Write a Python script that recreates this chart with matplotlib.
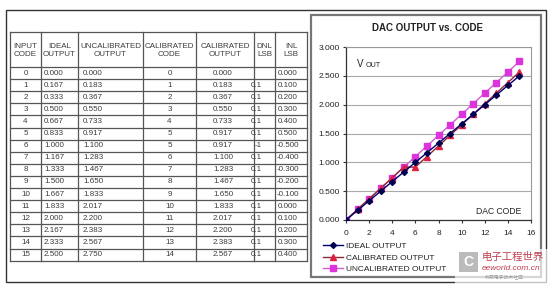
import matplotlib.pyplot as plt
from matplotlib.patches import Rectangle

plt.rcParams['font.family'] = ['Liberation Sans', 'Noto Sans CJK SC', 'DejaVu Sans']

# table / chart data
codes = list(range(16))
ideal = [0.000, 0.167, 0.333, 0.500, 0.667, 0.833, 1.000, 1.167,
         1.333, 1.500, 1.667, 1.833, 2.000, 2.167, 2.333, 2.500]
uncal = [0.000, 0.183, 0.367, 0.550, 0.733, 0.917, 1.100, 1.283,
         1.467, 1.650, 1.833, 2.017, 2.200, 2.383, 2.567, 2.750]
cal_code = [0, 1, 2, 3, 4, 5, 5, 6, 7, 8, 9, 10, 11, 12, 13, 14]
cal_out = [0.000, 0.183, 0.367, 0.550, 0.733, 0.917, 0.917, 1.100,
           1.283, 1.467, 1.650, 1.833, 2.017, 2.200, 2.383, 2.567]
dnl = ['', '0.1', '0.1', '0.1', '0.1', '0.1', '-1', '0.1',
       '0.1', '0.1', '0.1', '0.1', '0.1', '0.1', '0.1', '0.1']
inl = [0.000, 0.100, 0.200, 0.300, 0.400, 0.500, -0.500, -0.400,
       -0.300, -0.200, -0.100, 0.000, 0.100, 0.200, 0.300, 0.400]
headers = ['INPUT\nCODE', 'IDEAL\nOUTPUT', 'UNCALIBRATED\nOUTPUT', 'CALIBRATED\nCODE',
           'CALIBRATED\nOUTPUT', 'DNL\nLSB', 'INL\nLSB']

fig = plt.figure(figsize=(5.53, 2.86), dpi=100)
bg = fig.add_axes([0, 0, 1, 1])
bg.set_xlim(0, 553)
bg.set_ylim(286, 0)
bg.axis('off')

# outer frame and chart frame
bg.add_patch(Rectangle((6, 10), 540, 272, fill=False, ec='#333333', lw=1.0))
bg.add_patch(Rectangle((311, 15), 230, 262, fill=False, ec='#777777', lw=1.6))

# table grid
cols = [10, 41, 78, 143, 196, 254, 275, 307]
top, head_bot, row_h = 32, 67, 12.1
bottom = head_bot + 16 * row_h
for x in cols:
    bg.plot([x, x], [top, bottom], color='#555555', lw=0.9)
bg.plot([cols[0], cols[-1]], [top, top], color='#555555', lw=0.9)
for i in range(17):
    y = head_bot + i * row_h
    bg.plot([cols[0], cols[-1]], [y, y], color='#555555', lw=0.9)

fs = 5.8
tc = '#3c3c3c'
for j, h in enumerate(headers):
    bg.text((cols[j] + cols[j + 1]) / 2, (top + head_bot) / 2 + 1, h, ha='center',
            va='center', fontsize=fs, color=tc, linespacing=1.1)

for i in codes:
    y = head_bot + (i + 0.5) * row_h
    kw = dict(va='center', fontsize=fs, color=tc)
    bg.text((cols[0] + cols[1]) / 2, y, str(i), ha='center', **kw)
    bg.text(44, y, f'{ideal[i]:.3f}', ha='left', **kw)
    bg.text(83, y, f'{uncal[i]:.3f}', ha='left', **kw)
    bg.text((cols[3] + cols[4]) / 2, y, str(cal_code[i]), ha='center', **kw)
    bg.text(213, y, f'{cal_out[i]:.3f}', ha='left', **kw)
    bg.text(262, y, dnl[i], ha='right', **kw)
    bg.text(278 if inl[i] >= 0 else 276.5, y, f'{inl[i]:.3f}', ha='left', **kw)

# chart
ax = fig.add_axes([346 / 553, (286 - 220) / 286, (531 - 346) / 553, (220 - 47) / 286])
ax.plot(codes, uncal, color='#d060d0', lw=1.0, marker='s', ms=4.3,
        mfc='#dd33dd', mec='#dd33dd', label='UNCALIBRATED OUTPUT', zorder=3)
ax.plot(codes, cal_out, color='#8b2a3a', lw=1.0, marker='^', ms=4.3,
        mfc='#e02040', mec='#e02040', label='CALIBRATED OUTPUT', zorder=4)
ax.plot(codes, ideal, color='#000070', lw=1.0, marker='D', ms=3.0,
        mfc='#000050', mec='#000050', label='IDEAL OUTPUT', zorder=5)
ax.set_xlim(0, 16)
ax.set_ylim(0, 3)
ax.set_xticks(range(0, 17, 2))
ax.set_yticks([0, 0.5, 1, 1.5, 2, 2.5, 3])
ax.set_yticklabels([f'{v:.3f}' for v in [0, 0.5, 1, 1.5, 2, 2.5, 3]])
ax.yaxis.grid(True, color='#aaaaaa', lw=0.8)
ax.set_axisbelow(True)
ax.tick_params(labelsize=6, length=2.5, width=0.8, color='#333333', labelcolor='#222222', pad=2)
ax.tick_params(axis='x', pad=5)
for s in ['top', 'right']:
    ax.spines[s].set_color('#999999')
    ax.spines[s].set_linewidth(0.8)
for s in ['left', 'bottom']:
    ax.spines[s].set_color('#333333')
    ax.spines[s].set_linewidth(0.9)

ax.text(0.06, 0.9, 'V', transform=ax.transAxes, fontsize=7, color='#222222', va='center')
ax.text(0.105, 0.895, 'OUT', transform=ax.transAxes, fontsize=5.2, color='#222222', va='center')
ax.text(0.95, 0.05, 'DAC CODE', transform=ax.transAxes, fontsize=6.2, color='#222222',
        ha='right', va='center')

bg.text(427, 28, 'DAC OUTPUT vs. CODE', ha='center', va='center', fontsize=7,
        fontweight='bold', color='#222222')

handles, labels = ax.get_legend_handles_labels()
fig.legend(handles[::-1], labels[::-1], loc='upper left',
           bbox_to_anchor=(319 / 553, 1 - 238 / 286), frameon=False, fontsize=6,
           handlelength=2.4, handletextpad=0.3, labelspacing=0.45, borderpad=0,
           labelcolor='#222222')

# watermark
bg.add_patch(Rectangle((455, 249), 98, 37, fc='white', ec='none', alpha=0.7, zorder=5))
bg.add_patch(Rectangle((459, 252), 19, 20, fc='#bbbbbb', ec='none', zorder=6))
bg.text(468.5, 262, 'C', ha='center', va='center', fontsize=10, fontweight='bold',
        color='white', zorder=7)
bg.text(482, 257, '电子工程世界', ha='left', va='center', fontsize=7.5, color='#c04050',
        family=['Noto Sans CJK SC'], zorder=7)
bg.text(482, 268, 'eeworld.com.cn', ha='left', va='center', fontsize=6, style='italic',
        color='#c04050', zorder=7)
bg.text(485, 277, '权威电子技术社区', ha='left', va='center', fontsize=3.5, color='#999999',
        family=['Noto Sans CJK SC'], zorder=7)

fig.savefig('out.png', dpi=100)
